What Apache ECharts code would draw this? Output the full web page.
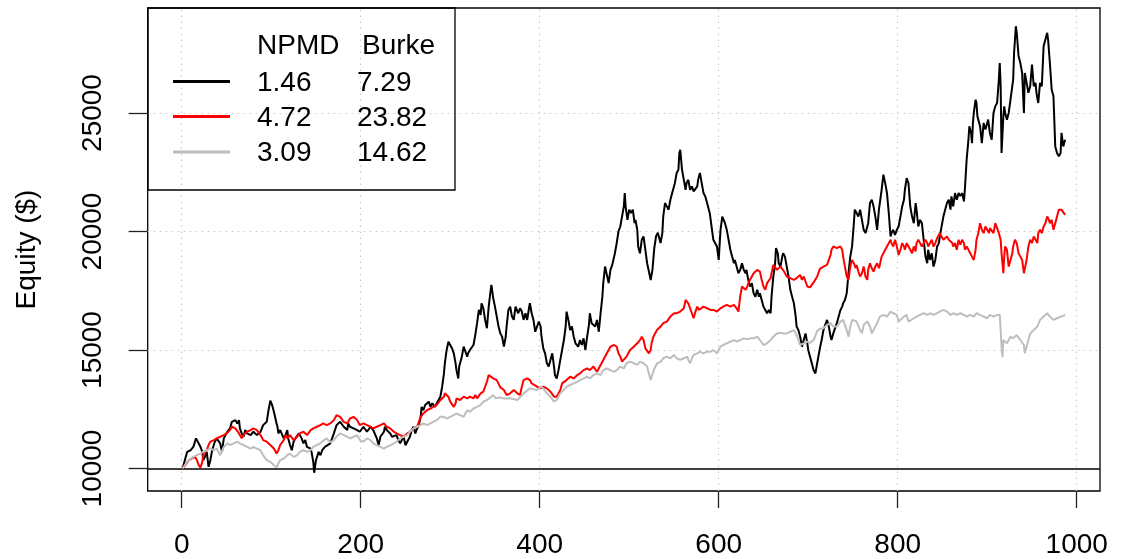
<!DOCTYPE html>
<html>
<head>
<meta charset="utf-8">
<script src="https://cdn.jsdelivr.net/npm/echarts@6/dist/echarts.min.js"></script>
<style>
  html, body { margin: 0; padding: 0; background: #fff; }
  #chart { width: 1124px; height: 559px; }
</style>
</head>
<body>
<div id="chart"></div>
<script>
// Equity curves of three strategies (step, equity in $)
const blackStep = [1,6,10,13,16,18,21,23,24,26,28,30,32,34,37,39,43,45,47,49,51,54,56,60,62,64,65,67,69,71,73,77,80,84,88,91,93,95,97,99,101,103,105,106,107,108,110,112,114,116,118,119,121,123,125,127,131,134,136,138,140,142,144,145,147,148,150,153,155,157,159,160,162,166,170,173,177,181,185,186,188,192,196,199,203,207,211,214,218,220,222,226,227,229,233,235,237,240,242,244,248,250,252,253,255,257,259,261,263,265,267,268,270,272,274,276,278,280,281,283,285,287,289,291,293,294,296,298,300,302,304,306,307,309,310,313,315,317,319,320,322,324,326,328,330,332,334,335,337,339,341,343,345,346,348,350,352,354,356,358,360,362,363,365,367,369,371,373,375,376,378,380,382,384,386,388,389,391,393,395,397,399,401,402,404,406,408,410,412,414,416,417,419,421,423,425,427,429,430,432,434,436,438,440,442,443,445,447,449,451,453,455,456,458,460,462,464,466,468,470,471,473,475,477,479,481,483,484,486,488,490,492,494,495,496,498,500,502,504,506,507,509,510,512,514,516,518,520,522,524,526,528,530,532,535,537,538,540,542,544,546,548,550,551,553,555,556,557,559,561,563,564,566,568,570,572,574,576,577,579,581,583,585,587,590,592,594,596,598,600,602,604,605,607,609,611,613,615,617,618,620,622,624,626,628,630,631,633,635,637,639,641,643,645,646,648,650,652,654,656,658,659,661,663,664,666,667,669,671,672,674,676,678,680,682,684,686,687,689,691,693,695,697,699,700,702,704,706,708,710,712,713,715,717,719,721,723,725,726,728,730,732,734,736,738,739,741,743,745,747,749,751,752,754,756,758,760,762,764,766,767,769,771,773,775,777,779,780,782,784,786,788,790,792,793,795,797,799,801,803,805,807,808,810,812,814,816,818,820,821,823,825,827,829,831,833,834,836,838,840,842,844,846,847,849,851,853,855,857,859,860,862,864,866,868,870,872,874,875,877,879,880,882,883,884,885,887,888,889,890,892,894,896,898,900,901,903,905,907,909,911,913,914,915,916,918,919,920,922,924,926,928,929,930,932,933,935,937,939,941,942,944,946,948,950,952,954,955,957,959,961,963,965,967,968,970,972,974,976,978,980,982,983,985,987];
const blackEquity = [10000,10700,10770,10910,11270,11130,10910,10700,10350,10490,10700,10070,10350,10770,11130,11270,11060,10700,11270,11410,11550,11690,11970,12040,11900,12040,11690,11480,11340,11620,11480,11410,11550,11410,11550,11830,11900,11970,12460,12860,12680,12390,12320,11900,11760,11480,11620,11550,11270,11410,11620,11270,10990,10770,11130,11270,11480,11270,11060,11200,10910,10990,10840,10700,10280,9820,10350,10700,10560,10770,10700,10910,10990,11060,11480,11830,11970,11760,11620,11900,11760,11690,11620,11550,11760,11550,11760,11620,11270,10980,11340,11550,11760,11620,11480,11340,11410,11410,11200,11060,11340,10980,10910,11200,11340,11620,11760,11480,11690,11830,12180,12600,12460,12680,12600,12820,12600,12750,12820,12600,12750,12820,13030,13450,14010,14440,15000,15350,15210,15070,14860,14440,14150,13800,14300,14720,15140,15070,14720,14860,15000,15070,15210,15630,16130,16690,16480,16970,16760,16270,15920,16830,17460,17750,17200,16830,16410,15990,15700,15560,15140,15560,15990,16690,16830,16410,16270,16830,16900,16550,16760,16620,16270,16550,16270,16760,16970,16550,16270,15770,15700,16200,15990,15560,15070,14860,14440,14300,14580,14860,14300,13940,13800,14150,14580,15000,15420,15990,16620,16270,15840,15990,15560,15280,15350,15140,15420,15210,15490,15000,15560,16060,16550,16130,16200,15990,16270,15770,16550,17250,17820,18520,18590,17820,18380,18590,18520,19080,19510,20000,20210,20280,21060,21620,21060,20490,20920,20780,20920,20350,20490,20070,19370,19080,19650,19790,19230,18660,18310,17950,18400,19300,19800,19950,19510,19930,20630,21200,21060,20920,21340,21620,21900,22040,22470,22610,23310,23450,22610,22180,21760,22040,22180,21760,21900,21690,21620,21900,22180,22470,22040,21620,21480,21200,20770,20210,19650,19650,19370,18800,20070,20630,20630,20350,20070,19650,19230,18940,18660,18800,18520,18240,18380,18660,18380,18240,18380,17960,17680,17820,17390,17250,17540,17250,17390,17110,16830,16690,16550,16690,16550,17250,18100,18660,19300,19080,18660,18520,18940,19080,18940,18520,18100,17540,17250,16970,16410,15990,15840,15560,15140,15420,15700,15280,15000,14720,14440,14150,14010,14440,14860,15070,15420,15840,16060,16270,15990,15560,15420,15700,15920,16130,16410,16690,16830,16970,17110,17390,18240,18940,19370,20350,20920,20780,20630,20920,20490,20070,19930,19860,20350,21200,21340,21060,20630,20070,20920,21200,21760,22400,22040,21620,20780,19790,19930,20070,19860,20070,20210,20630,21060,21340,21760,22250,22040,21060,20630,20350,21200,20920,20210,20490,20350,19650,18940,18660,19230,18800,19080,18520,18800,19370,19510,19790,20210,20630,20920,21200,21340,20920,21480,21060,21620,21340,21620,21500,21620,21270,21760,23030,23870,24440,24160,23730,24580,25000,25560,25420,24860,24720,24440,23730,24580,24300,24580,24720,24160,23870,25000,25280,25420,26410,27110,26130,23310,24860,25280,25000,24720,25000,25560,26130,26410,27540,28660,28380,27400,27110,26690,25000,26690,26270,25850,26130,27040,26130,26270,25850,25420,26270,26130,27820,28100,28380,28100,27110,25990,25710,23590,23310,23170,23310,24160,23590,23870];

const redStep = [1,4,8,11,15,17,19,21,23,24,26,28,30,32,34,36,39,43,47,50,54,56,58,60,62,64,65,67,69,73,77,80,82,84,86,88,91,95,99,103,106,108,110,114,116,118,121,125,129,132,136,140,144,147,151,155,158,162,166,170,173,177,181,185,188,192,196,199,203,207,211,214,218,222,226,229,233,237,240,244,248,252,255,259,263,265,267,270,274,278,281,285,289,293,294,296,298,300,304,306,307,311,315,319,322,326,328,330,334,337,341,343,345,348,352,356,360,363,365,367,371,375,378,380,382,386,389,391,393,397,401,404,406,408,412,414,416,417,419,423,425,427,430,434,438,442,445,449,453,456,460,464,468,471,475,479,483,486,488,490,492,494,497,499,501,505,509,512,514,516,518,520,522,524,525,527,531,535,538,542,546,550,553,557,561,563,565,566,568,570,572,574,576,578,579,583,587,591,594,598,602,605,609,613,617,620,622,624,626,628,630,632,633,635,637,639,643,646,648,650,652,654,656,658,659,661,663,665,669,673,676,680,684,687,691,693,695,697,699,702,706,710,713,717,721,723,725,726,728,732,736,738,739,741,743,745,747,749,751,753,754,756,758,760,762,764,766,767,769,771,773,775,777,779,780,782,784,786,788,790,792,793,795,797,799,801,803,805,807,808,810,812,814,816,818,820,821,823,825,827,829,831,833,834,836,838,840,842,844,846,847,849,851,853,855,857,859,861,862,864,866,868,870,872,874,875,877,879,881,883,885,887,888,890,892,894,896,898,900,902,903,905,907,909,911,913,915,916,918,919,920,922,924,926,928,929,931,933,935,937,939,941,942,944,946,948,950,952,954,956,957,959,961,963,965,967,969,970,972,974,976,978,980,982,983,985,987];
const redEquity = [10000,10140,10350,10420,10490,10350,10140,10040,10280,10560,10630,10770,10990,11130,11060,11200,11270,11340,11410,11480,11620,11760,11830,11690,11620,11480,11410,11270,11410,11550,11620,11690,11760,11620,11550,11410,11200,11130,10990,10840,10630,10770,10990,11200,11410,11270,11410,11200,11340,11480,11550,11410,11620,11690,11760,11830,11900,11830,11900,12040,12250,12180,11970,11900,12110,12180,12040,11830,11900,11830,11760,11690,11760,11830,11900,11760,11690,11550,11480,11410,11340,11480,11550,11690,11760,11970,12180,12320,12460,12530,12600,12680,12890,13030,13170,13100,13030,12820,12600,12750,12960,12890,13030,12960,13030,12960,13100,12960,13170,13240,13660,13940,13940,13800,13730,13420,13310,13100,13030,13170,13310,13170,13100,13450,13730,13800,13730,13590,13520,13450,13380,13450,13520,13380,13240,13170,13030,12960,13030,13310,13590,13660,13730,13870,13800,13940,14010,14150,14220,14150,14300,14080,14370,14580,14860,15140,15210,15140,14860,14720,14510,14580,14720,14860,15000,15140,15280,15420,15560,15420,15070,15000,14860,15000,15280,15560,15840,15990,16130,16200,16410,16550,16550,16620,16760,17110,17180,16970,16760,16550,16340,16620,16830,16690,16760,16830,16760,16690,16690,16620,16760,16830,16900,16830,16900,16760,16620,17250,17680,17750,17540,17680,17820,17960,17960,18240,18380,18310,17960,17680,17540,17820,17890,18030,18240,18590,18520,18380,18520,18310,18100,18030,17960,18030,18170,17960,18100,17890,17680,17640,17850,18100,18420,18520,18590,18800,19010,19230,19370,19300,19370,19230,18940,18520,18100,17960,18520,18800,18660,18450,18590,18310,18100,18240,18520,18100,17960,18380,18660,18450,18310,18520,18660,18450,18590,18940,19080,19230,19370,19510,19650,19510,19370,19650,19370,19010,19230,19510,19370,19230,19510,19370,19230,19080,19370,19160,19510,19650,19580,19370,19510,19650,19510,19370,19510,19650,19370,19510,19720,19790,19930,19790,19650,19720,19790,19650,19720,19510,19370,19510,19230,19650,19440,19650,19510,19230,19370,19230,19080,18940,18800,19230,19650,19930,20350,20070,19930,20210,20070,19930,20140,20070,19930,20350,20140,19930,19650,19080,18240,18940,19370,19230,18520,18800,19080,19370,19650,19510,19080,18940,18800,18240,18170,18800,19370,19650,19510,19790,19650,19510,19930,20070,19930,20210,20350,20630,20490,20350,20490,20070,20350,20630,20920,20990,20920,20850,20700];

const grayStep = [1,6,10,13,17,21,24,28,32,36,39,43,45,47,49,51,54,58,62,65,69,73,77,80,84,88,91,95,99,103,106,108,110,114,118,121,125,129,132,136,140,144,147,151,155,159,162,166,170,173,177,181,185,188,192,196,199,203,207,211,214,218,222,226,229,233,237,240,244,248,252,255,259,263,267,270,274,278,281,285,289,293,296,300,304,307,311,315,319,322,326,330,334,337,341,345,348,351,356,360,367,375,382,389,397,401,404,408,412,416,419,423,430,438,442,445,449,453,456,460,464,468,471,475,479,483,486,490,494,497,501,505,509,512,516,520,522,524,526,528,531,535,538,542,546,550,553,557,561,565,566,568,570,572,576,579,583,587,591,594,598,602,605,609,613,617,620,624,628,632,635,639,643,646,650,654,658,661,665,669,673,676,680,684,687,689,691,693,695,699,702,706,710,713,717,721,725,728,732,736,739,743,745,747,749,751,754,758,760,762,766,769,771,773,777,780,784,788,792,795,799,801,803,807,810,812,814,818,821,825,829,833,836,840,844,847,851,855,859,862,866,870,874,877,881,885,888,892,896,900,903,907,911,914,915,916,917,918,922,926,929,933,937,941,942,944,948,952,956,959,963,967,970,974,978,982,985,987];
const grayEquity = [10000,10280,10420,10490,10560,10630,10700,10770,10840,10770,10840,10560,10630,10910,10990,11060,10990,11060,11130,11060,10990,10910,10840,10910,10840,10770,10560,10350,10280,10140,10050,10210,10350,10420,10560,10630,10490,10560,10700,10770,10700,10770,10910,10990,11060,11200,11270,11100,11200,11340,11480,11410,11340,11270,11340,11410,11200,11130,11270,11200,11060,10980,10910,10840,10910,10980,11060,11130,11270,11340,11410,11550,11690,11760,11830,11900,11830,11900,11970,12040,12180,12180,12110,12180,12250,12320,12250,12180,12460,12390,12530,12600,12680,12820,12890,13000,13100,12960,13000,12950,12960,12890,13170,13380,13310,13450,13380,13170,13030,12820,12890,13170,13450,13590,13660,13730,13800,13870,13800,13940,14010,13940,14150,14220,14150,14080,14150,14300,14220,14440,14510,14440,14370,14510,14440,14300,14010,13730,13980,14200,14430,14500,14650,14720,14650,14790,14650,14580,14650,14720,14580,14440,14650,14790,14860,14930,14860,14930,14930,15000,14860,15140,15210,15280,15350,15420,15350,15420,15490,15450,15490,15490,15560,15420,15210,15280,15420,15560,15700,15730,15700,15700,15770,15840,15630,15420,15210,15140,15280,15350,15300,15420,15800,15900,15920,16060,16130,15990,15990,16200,16270,15840,15560,15990,16270,16340,16200,15840,15700,16060,16200,15990,15700,15840,16130,16410,16480,16410,16620,16550,16480,16200,16130,16410,16480,16200,16130,16340,16410,16480,16550,16480,16550,16480,16550,16620,16690,16620,16480,16550,16480,16550,16480,16410,16480,16410,16550,16480,16410,16340,16480,16410,16480,16480,15840,15140,14700,15420,15280,15560,15490,15630,15420,15210,14860,15140,15700,15840,15990,16270,16410,16550,16410,16270,16340,16410,16440,16480];

// Axis ticks and legend table
const xTicks = [0, 200, 400, 600, 800, 1000];
const yTicks = [10000, 15000, 20000, 25000];
const baseline = 10000;
const legendHeader = ['NPMD', 'Burke'];
const legendNpmd = ['1.46', '4.72', '3.09'];
const legendBurke = ['7.29', '23.82', '14.62'];
const seriesColors = ['#000000', '#ff0000', '#bebebe'];

const FONT = '"Liberation Sans", Arial, Helvetica, sans-serif';

function pairs(steps, values) {
  return steps.map((s, i) => [s, values[i]]);
}

const chart = echarts.init(document.getElementById('chart'), null, { renderer: 'canvas' });

const lineSeries = (data, color, extra) => Object.assign({
  type: 'line',
  data: data,
  showSymbol: false,
  symbol: 'none',
  silent: true,
  lineStyle: { color: color, width: 2 },
  z: 3
}, extra || {});

// Legend box: border, line keys and two value columns
const legendGraphics = [
  { type: 'rect', shape: { x: 148, y: 8, width: 307, height: 182 },
    style: { fill: 'none', stroke: '#000', lineWidth: 1.3 }, z: 10 },
  { type: 'text', style: { text: legendHeader[0], x: 257, y: 46, fontSize: 28, fontFamily: FONT, fill: '#000', textVerticalAlign: 'middle' }, z: 10 },
  { type: 'text', style: { text: legendHeader[1], x: 362, y: 46, fontSize: 28, fontFamily: FONT, fill: '#000', textVerticalAlign: 'middle' }, z: 10 }
];
const rowY = [83, 118, 153.5];
legendNpmd.forEach((v, k) => {
  legendGraphics.push({ type: 'line', shape: { x1: 173, y1: rowY[k] - 1.5, x2: 230, y2: rowY[k] - 1.5 },
    style: { stroke: seriesColors[k], lineWidth: 3 }, z: 10 });
  legendGraphics.push({ type: 'text', style: { text: v, x: 257, y: rowY[k], fontSize: 28, fontFamily: FONT, fill: '#000', textVerticalAlign: 'middle' }, z: 10 });
  legendGraphics.push({ type: 'text', style: { text: legendBurke[k], x: 357, y: rowY[k], fontSize: 28, fontFamily: FONT, fill: '#000', textVerticalAlign: 'middle' }, z: 10 });
});

const gridLineStyle = { color: '#c8c8c8', width: 1.2, type: [1.5, 4.5] };
const plainNumber = v => String(v);

const option = {
  animation: false,
  backgroundColor: '#ffffff',
  grid: {
    left: 147.7, right: 24, top: 8, bottom: 68,
    show: true, borderColor: '#000', borderWidth: 1.3, backgroundColor: 'transparent'
  },
  xAxis: {
    type: 'value', min: -38, max: 1026,
    axisLine: { show: false, onZero: false },
    axisTick: { show: true, length: 17, customValues: xTicks, lineStyle: { color: '#222', width: 1.3 } },
    axisLabel: { customValues: xTicks, formatter: plainNumber, fontSize: 28, fontFamily: FONT, color: '#000', margin: 40 },
    splitLine: { show: false }
  },
  yAxis: {
    type: 'value', min: 9050, max: 29430,
    name: 'Equity ($)', nameLocation: 'middle', nameGap: 106, nameRotate: 90,
    nameTextStyle: { fontSize: 28, fontFamily: FONT, color: '#000' },
    axisLine: { show: false, onZero: false },
    axisTick: { show: true, length: 19, customValues: yTicks, lineStyle: { color: '#222', width: 1.3 } },
    axisLabel: { customValues: yTicks, formatter: plainNumber, fontSize: 28, fontFamily: FONT, color: '#000', rotate: 90, margin: 40 },
    splitLine: { show: false }
  },
  graphic: legendGraphics,
  series: [
    lineSeries(pairs(blackStep, blackEquity), seriesColors[0], {
      markLine: {
        silent: true, symbol: ['none', 'none'], label: { show: false },
        data: xTicks.map(v => ({ xAxis: v, lineStyle: gridLineStyle }))
          .concat(yTicks.filter(v => v !== baseline).map(v => ({ yAxis: v, lineStyle: gridLineStyle })))
          .concat([{ yAxis: baseline, lineStyle: { color: '#000', width: 1.5, type: 'solid' } }]),
        z: 1
      }
    }),
    lineSeries(pairs(redStep, redEquity), seriesColors[1]),
    lineSeries(pairs(grayStep, grayEquity), seriesColors[2])
  ]
};

chart.setOption(option);
</script>
</body>
</html>
